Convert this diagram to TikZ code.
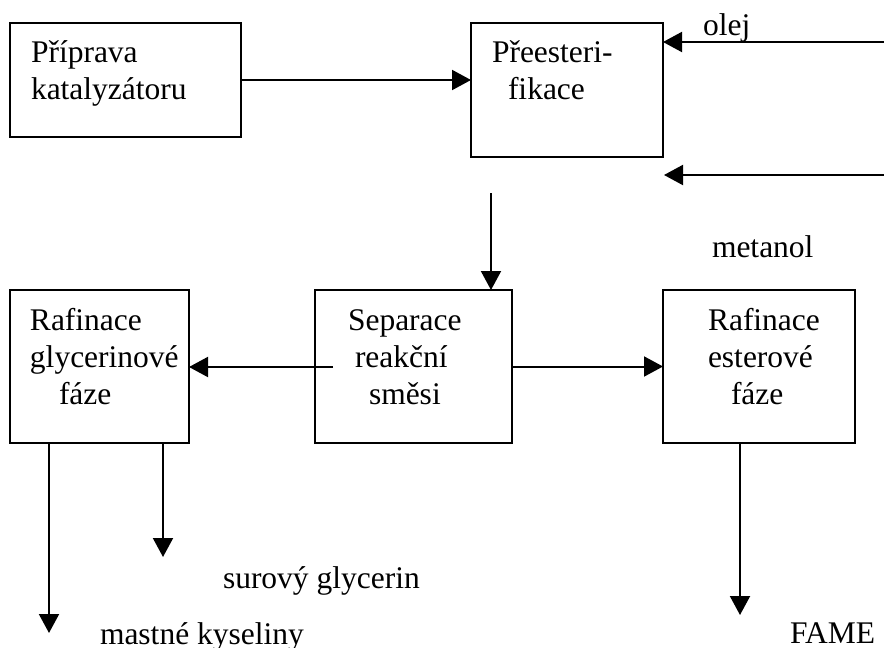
\documentclass[tikz,border=0pt]{standalone}
\usepackage{fontspec}
\setmainfont{Liberation Serif}
\usetikzlibrary{arrows.meta}
\begin{document}
\begin{tikzpicture}[x=1pt,y=-1pt,
  every node/.style={inner sep=0pt,outer sep=0pt},
  box/.style={draw,line width=2pt,minimum width=#1},
  lbl/.style={anchor=base west,font=\fontsize{31.5}{37}\selectfont},
  flow/.style={line width=2pt,-{Triangle[length=19pt,width=20pt]}}]
\useasboundingbox (0,0) rectangle (884,648);

% process boxes
\node[box=231pt,minimum height=114pt] (b1) at (125.5,80) {};
\node[box=192pt,minimum height=134pt] (b2) at (567,90) {};
\node[box=179pt,minimum height=153pt] (b3) at (99.5,366.5) {};
\node[box=197pt,minimum height=153pt] (b4) at (413.5,366.5) {};
\node[box=192pt,minimum height=153pt] (b5) at (759,366.5) {};

% box captions
\node[lbl] (t1a) at (31,62) {Příprava};
\node[lbl] (t1b) at (31,99) {katalyzátoru};
\node[lbl] (t2a) at (492,62) {Přeesteri-};
\node[lbl] (t2b) at (508,99) {fikace};
\node[lbl] (t3a) at (30,330) {Rafinace};
\node[lbl] (t3b) at (30,367) {glycerinové};
\node[lbl] (t3c) at (59,404) {fáze};
\node[lbl] (t4a) at (348,330) {Separace};
\node[lbl] (t4b) at (355,367) {reakční};
\node[lbl] (t4c) at (369,404) {směsi};
\node[lbl] (t5a) at (708,330) {Rafinace};
\node[lbl] (t5b) at (708,367) {esterové};
\node[lbl] (t5c) at (731,404) {fáze};

% stream labels
\node[lbl] (olej) at (703,35) {olej};
\node[lbl] (metanol) at (712,257) {metanol};
\node[lbl] (surovy) at (223,588) {surový glycerin};
\node[lbl] (mastne) at (100,644) {mastné kyseliny};
\node[lbl] (fame) at (790,643) {FAME};

% free ends of the streams
\coordinate (olejin) at (884,42);
\coordinate (metin) at (884,175);
\coordinate (mettip) at (664,175);
\coordinate (prodout) at (491,193);
\coordinate (sepout) at (333,367);
\coordinate (fametip) at (740,615);
\coordinate (mktip) at (49,633);
\coordinate (sgtip) at (163,557);

% connectors
\draw[flow] (b1.east) -- (b1.east -| b2.west);
\draw[flow] (olejin) -- (olejin -| b2.east);
\draw[flow] (metin) -- (mettip);
\draw[flow] (prodout) -- (prodout |- b4.north);
\draw[flow] (sepout) -- (sepout -| b3.east);
\draw[flow] (b4.east) -- (b5.west);
\draw[flow] (fametip |- b5.south) -- (fametip);
\draw[flow] (mktip |- b3.south) -- (mktip);
\draw[flow] (sgtip |- b3.south) -- (sgtip);
\end{tikzpicture}
\end{document}
